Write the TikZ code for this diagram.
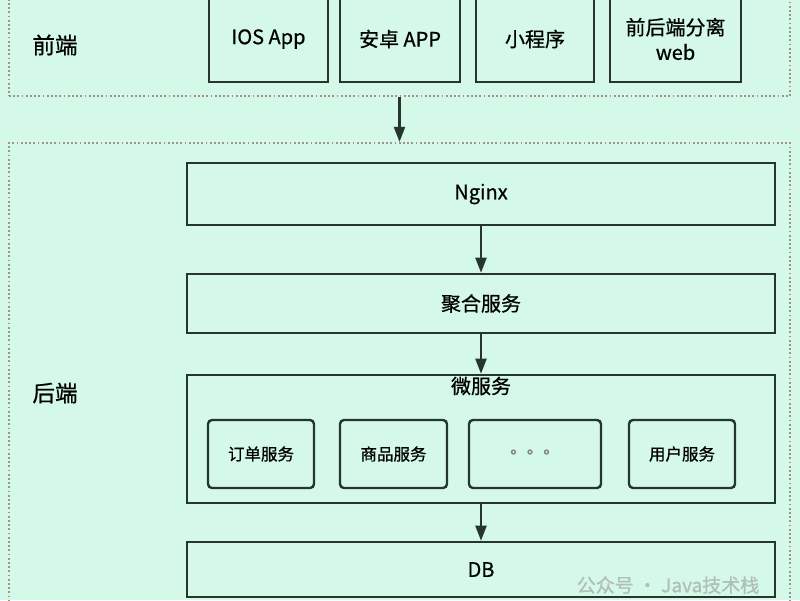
\documentclass[tikz,border=0pt]{standalone}
\usepackage{fontspec}
\setmainfont{Noto Sans CJK SC}[FakeBold=0.7]
\usetikzlibrary{arrows.meta}
\definecolor{bgmint}{HTML}{D4F9E9}
\definecolor{boxline}{HTML}{26362F}
\definecolor{dotline}{HTML}{A39383}
\definecolor{marktext}{HTML}{A9B3AE}
\tikzset{
  layer/.style={draw=dotline, line width=2.2pt, dash pattern=on 1.8pt off 2.4pt, inner sep=0pt},
  tier/.style={draw=boxline, line width=2.6pt, minimum width=588pt, inner sep=0pt, font=\fontsize{20}{24}\selectfont},
  client/.style={draw=boxline, line width=2.6pt, minimum height=86pt, inner sep=0pt, align=center, font=\fontsize{20}{25}\selectfont},
  svc/.style={draw=boxline, line width=2.4pt, rounded corners=4pt, minimum height=68pt, inner sep=0pt, font=\fontsize{16.5}{19}\selectfont},
  sidelabel/.style={font=\fontsize{22.5}{26}\selectfont},
  flow/.style={draw=boxline, line width=2.2pt, -{Triangle[length=15pt,width=11pt]}}
}
\begin{document}
\begin{tikzpicture}[x=1pt, y=-1pt]
   \useasboundingbox (0,0) rectangle (800,600);
   \clip (0,0) rectangle (800,600);
   \fill[bgmint] (0,0) rectangle (800,600);

   \node[layer, minimum width=781pt, minimum height=116pt] (frontend) at (399.5,38) {};
   \node[layer, minimum width=781pt, minimum height=497pt] (backend) at (399.5,391.5) {};
   \node[sidelabel] (frontlabel) at (55,45) {前端};
   \node[sidelabel] (backlabel) at (55,393) {后端};

   \node[client, minimum width=119pt] (ios) at (268.5,39) {IOS App};
   \node[client, minimum width=120pt] (android) at (400,39) {安卓 APP};
   \node[client, minimum width=118pt] (miniapp) at (535,39) {小程序};
   \node[client, minimum width=131pt] (web) at (675.5,39) {前后端分离\\web};

   \node[tier, minimum height=62pt] (nginx) at (481,194) {Nginx};
   \node[tier, minimum height=59pt] (agg) at (481,303.5) {聚合服务};
   \node[tier, minimum height=128pt] (micro) at (481,439) {};
   \node[font=\fontsize{20}{24}\selectfont] (microlabel) at (481,386) {微服务};
   \node[tier, minimum height=55pt] (db) at (481,569.5) {DB};

   \node[svc, minimum width=106pt] (order) at (261,454) {订单服务};
   \node[svc, minimum width=107pt] (goods) at (393.5,454) {商品服务};
   \node[svc, minimum width=132pt, text=gray] (more) at (535,454) {\raisebox{0.3em}{。。。}};
   \node[svc, minimum width=106pt] (user) at (682,454) {用户服务};

   \draw[flow] (frontend.south) -- (backend.north);
   \draw[flow] (nginx.south) -- (agg.north);
   \draw[flow] (agg.south) -- (micro.north);
   \draw[flow] (micro.south) -- (db.north);

   \node[text=marktext, opacity=0.8, font=\fontsize{19}{22}\selectfont] (mark) at (668,585) {公众号 · Java技术栈};
\end{tikzpicture}
\end{document}
